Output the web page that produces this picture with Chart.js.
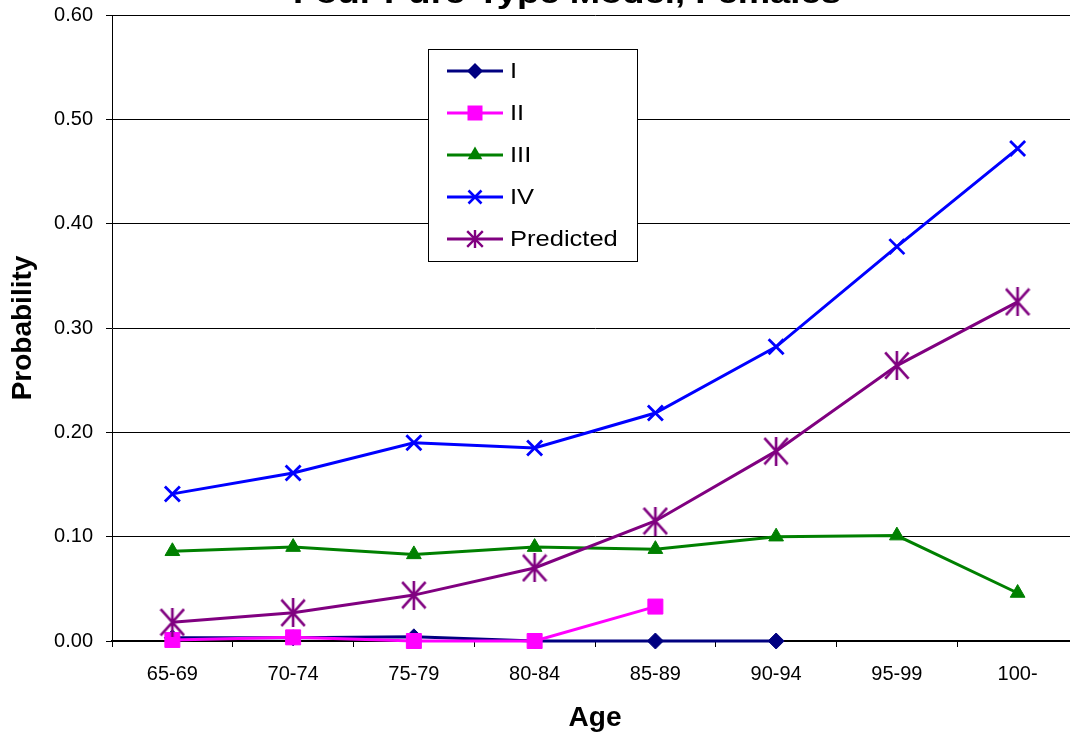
<!DOCTYPE html>
<html><head><meta charset="utf-8">
<script src="https://cdn.jsdelivr.net/npm/chart.js"></script>
<style>
html,body{margin:0;padding:0;overflow:hidden;background:#fff;width:1070px;height:736px}
#wrap{position:absolute;left:0;top:0;width:1092px;height:736px}
</style>
</head><body><div id="wrap"><canvas id="c"></canvas></div>
<script>
const titleText = 'Four Pure-Type Model, Females';
const xTitle = 'Age';
const yTitle = 'Probability';
const categories = ['65-69','70-74','75-79','80-84','85-89','90-94','95-99','100-'];
const seriesNames = ['I','II','III','IV','Predicted'];
const seriesI = [0.003, 0.003, 0.004, 0.000, 0.000, 0.000, null, null];
const seriesII = [0.001, 0.0035, 0.000, 0.000, 0.033, null, null, null];
const seriesIII = [0.086, 0.090, 0.083, 0.090, 0.088, 0.100, 0.101, 0.046];
const seriesIV = [0.141, 0.161, 0.190, 0.185, 0.2185, 0.282, 0.378, 0.472];
const seriesPredicted = [0.018, 0.027, 0.044, 0.070, 0.115, 0.182, 0.264, 0.325];
const yMin = 0, yMax = 0.6, yStep = 0.1;

const FONT = '"Liberation Sans", Arial, Helvetica, sans-serif';
const colors = ['#000080','#FF00FF','#008000','#0000FF','#800080'];

function makeStar(w, h, lw, color) {
  const c = document.createElement('canvas');
  c.width = w; c.height = h;
  const g = c.getContext('2d');
  g.strokeStyle = color; g.lineWidth = lw;
  const p = lw / 2;
  g.beginPath();
  g.moveTo(w / 2, 0); g.lineTo(w / 2, h);
  g.moveTo(p, p); g.lineTo(w - p, h - p);
  g.moveTo(w - p, p); g.lineTo(p, h - p);
  g.stroke();
  return c;
}
const bigStar = makeStar(26, 29, 2.6, colors[4]);
const smallStar = makeStar(18, 18, 2.4, colors[4]);

function drawMarker(ctx, idx, x, y) {
  const col = colors[idx];
  ctx.save();
  ctx.fillStyle = col; ctx.strokeStyle = col;
  ctx.beginPath();
  if (idx === 0) {
    const r = 8;
    ctx.moveTo(x - r, y); ctx.lineTo(x, y - r); ctx.lineTo(x + r, y); ctx.lineTo(x, y + r); ctx.closePath();
    ctx.fill();
  } else if (idx === 1) {
    ctx.rect(x - 7.5, y - 7.5, 15, 15); ctx.fill();
  } else if (idx === 2) {
    const r = 8.5;
    ctx.moveTo(x, y - r);
    ctx.lineTo(x + r * Math.sin(2 * Math.PI / 3), y - r * Math.cos(2 * Math.PI / 3));
    ctx.lineTo(x + r * Math.sin(4 * Math.PI / 3), y - r * Math.cos(4 * Math.PI / 3));
    ctx.closePath(); ctx.fill();
  } else if (idx === 3) {
    const h = 6.5;
    ctx.lineWidth = 2.6;
    ctx.moveTo(x - h, y - h); ctx.lineTo(x + h, y + h);
    ctx.moveTo(x + h, y - h); ctx.lineTo(x - h, y + h);
    ctx.stroke();
  } else {
    ctx.drawImage(smallStar, x - smallStar.width / 2, y - smallStar.height / 2);
  }
  ctx.restore();
}

const titlePlugin = {
  id: 'titleDraw',
  afterDraw(chart) {
    const ctx = chart.ctx;
    ctx.save();
    ctx.font = 'bold 30px ' + FONT;
    const w = ctx.measureText(titleText).width;
    ctx.translate(567, 3);
    ctx.scale(548 / w, 1);
    ctx.textAlign = 'center';
    ctx.textBaseline = 'alphabetic';
    ctx.fillStyle = '#000';
    ctx.fillText(titleText, 0, 0);
    ctx.restore();
  }
};

const legendPlugin = {
  id: 'boxLegend',
  afterDraw(chart) {
    const ctx = chart.ctx;
    const bx = 428.5, by = 49.5, bw = 209, bh = 212;
    ctx.save();
    ctx.fillStyle = '#fff';
    ctx.fillRect(bx, by, bw, bh);
    ctx.strokeStyle = '#000'; ctx.lineWidth = 1;
    ctx.strokeRect(bx, by, bw, bh);
    chart.data.datasets.forEach((ds, i) => {
      const y = 71 + i * 42;
      ctx.strokeStyle = colors[i]; ctx.lineWidth = 3;
      ctx.beginPath(); ctx.moveTo(447, y); ctx.lineTo(503, y); ctx.stroke();
      drawMarker(ctx, i, 475, y);
      ctx.save();
      ctx.font = '22px ' + FONT;
      ctx.fillStyle = '#000';
      ctx.textBaseline = 'middle';
      ctx.translate(510, y + 1);
      ctx.scale(1.16, 1);
      ctx.fillText(ds.label, 0, 0);
      ctx.restore();
    });
    ctx.restore();
  }
};

const seriesData = [seriesI, seriesII, seriesIII, seriesIV, seriesPredicted];
const styles = [
  {pointStyle: 'rectRot', pointRadius: 8, pointBorderWidth: 1},
  {pointStyle: 'rect', pointRadius: 10.6, pointBorderWidth: 1},
  {pointStyle: 'triangle', pointRadius: 8.5, pointBorderWidth: 1},
  {pointStyle: 'crossRot', pointRadius: 10.6, pointBorderWidth: 2.8},
  {pointStyle: bigStar, pointRadius: 14, pointBorderWidth: 0}
];

const datasets = seriesNames.map((name, i) => Object.assign({
  label: name,
  data: seriesData[i],
  borderColor: colors[i],
  backgroundColor: colors[i],
  pointBackgroundColor: colors[i],
  pointBorderColor: colors[i],
  borderWidth: 3,
  tension: 0,
  spanGaps: false,
  clip: false,
  order: 5 - i
}, styles[i]));

new Chart(document.getElementById('c'), {
  type: 'line',
  data: { labels: categories, datasets },
  plugins: [titlePlugin, legendPlugin],
  options: {
    responsive: true,
    maintainAspectRatio: false,
    devicePixelRatio: 1,
    animation: false,
    events: [],
    layout: { padding: { top: 15, right: 2, left: 0, bottom: 0 } },
    plugins: { legend: { display: false }, title: { display: false }, tooltip: { enabled: false } },
    scales: {
      x: {
        type: 'category',
        offset: true,
        grid: { drawOnChartArea: false, drawTicks: true, tickLength: 6, color: '#000', lineWidth: 1, offset: true },
        border: { display: true, color: '#000', width: 1.5 },
        ticks: { color: '#000', font: { family: FONT, size: 20 }, padding: 15, maxRotation: 0, autoSkip: false },
        title: { display: true, text: xTitle, color: '#000', font: { family: FONT, size: 28, weight: 'bold' }, padding: { top: 0, bottom: 1 } },
        afterFit(scale) { scale.height = 95; scale.paddingLeft = 0; scale.paddingRight = 0; }
      },
      y: {
        min: yMin, max: yMax,
        ticks: { stepSize: yStep, color: '#000', font: { family: FONT, size: 20 }, padding: 13,
          callback: v => Number(v).toFixed(2) },
        grid: { color: '#000', lineWidth: 1, drawTicks: true, tickLength: 6 },
        border: { display: true, color: '#000', width: 1 },
        title: { display: true, text: yTitle, color: '#000', font: { family: FONT, size: 28, weight: 'bold' }, padding: { top: 6, bottom: 0 } },
        afterFit(scale) { scale.width = 112; scale.paddingTop = 0; scale.paddingBottom = 0; }
      }
    }
  }
});
</script>
</body></html>
